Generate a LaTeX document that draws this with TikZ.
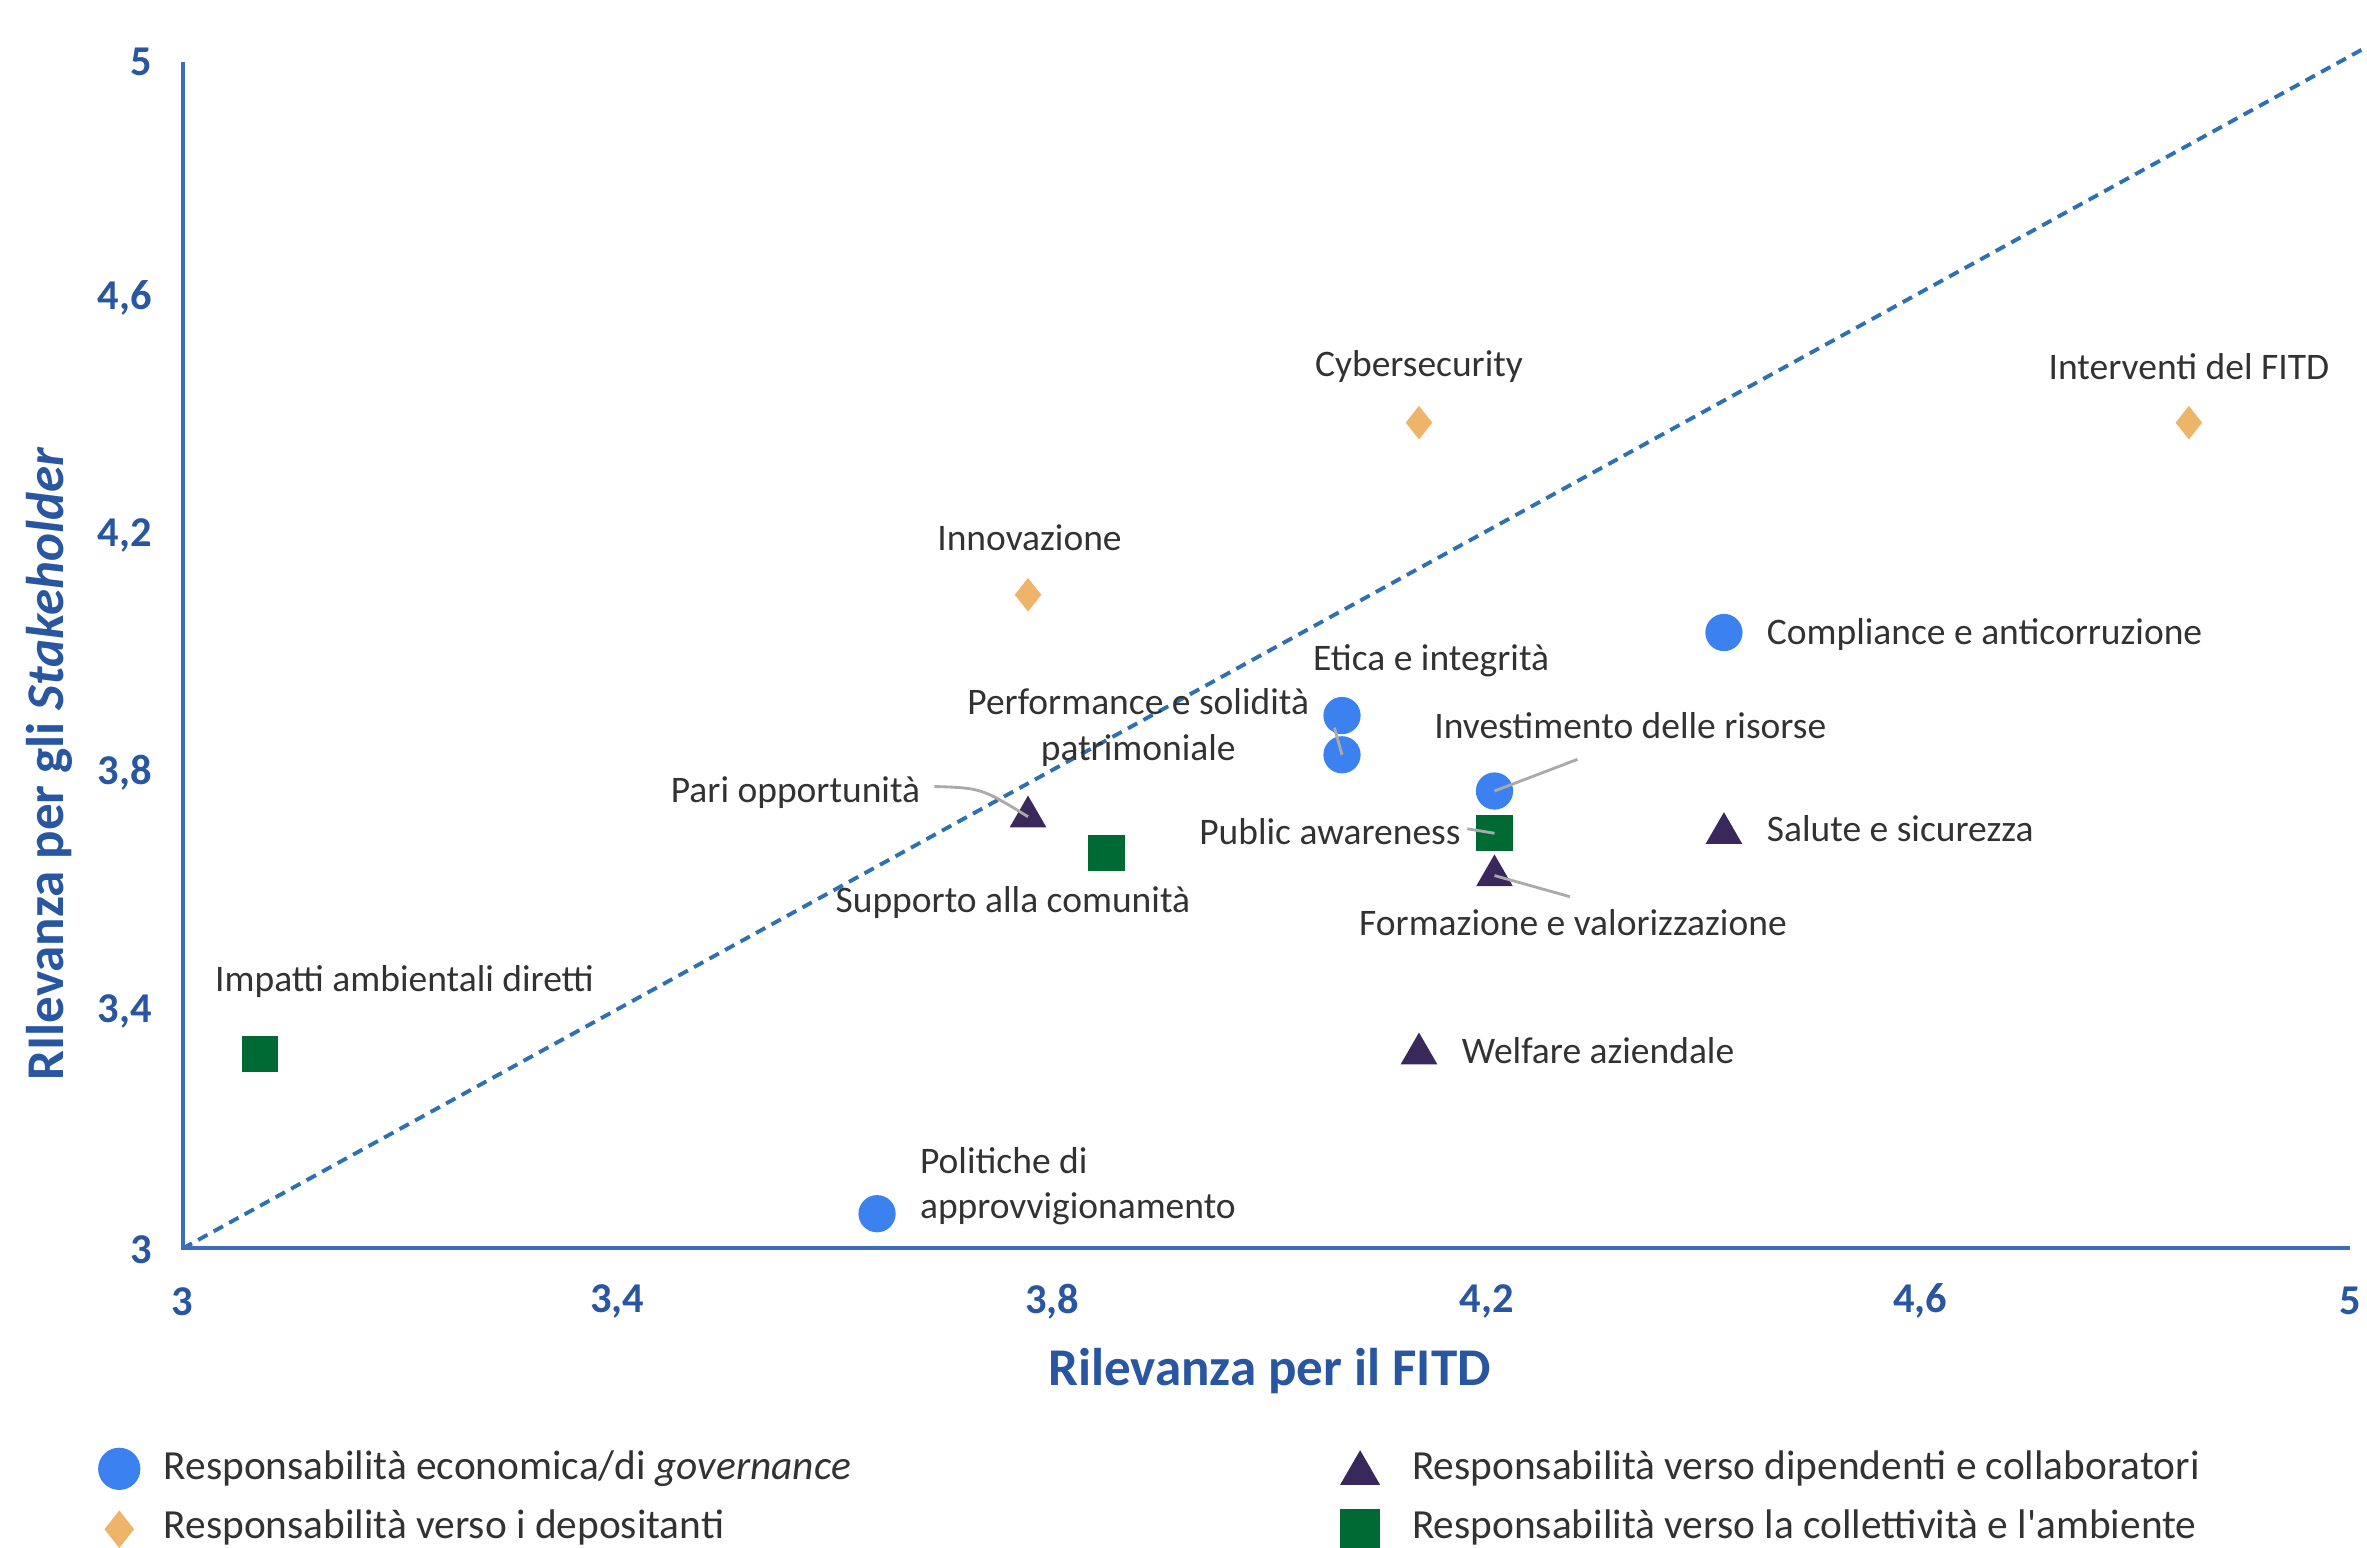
\documentclass[tikz,border=0pt]{standalone}
\usepackage{fontspec}
\setmainfont{Carlito}
\newfontfamily\nomapf{Carlito}[Ligatures=TeXOff]
\usetikzlibrary{shapes.geometric}
\definecolor{axblue}{RGB}{40,86,160}
\definecolor{axline}{RGB}{62,110,185}
\definecolor{dashblue}{RGB}{46,112,178}
\definecolor{cblue}{RGB}{59,130,240}
\definecolor{corange}{RGB}{238,180,105}
\definecolor{cpurple}{RGB}{56,40,92}
\definecolor{cgreen}{RGB}{0,106,52}
\definecolor{lbl}{RGB}{50,50,50}
\definecolor{lead}{RGB}{170,170,170}
\begin{document}
\begin{tikzpicture}[x=0.015cm,y=-0.015cm,
  lab/.style={font=\fontsize{10.6}{12.8}\selectfont, text=lbl, inner sep=0pt},
  leg/.style={font=\fontsize{11.7}{14}\selectfont, text=lbl, inner sep=0pt, anchor=west},
  tick/.style={font=\bfseries\fontsize{12}{14}\selectfont, text=axblue, inner sep=0pt},
  ttl/.style={font=\bfseries\fontsize{15}{18}\selectfont, text=axblue, inner sep=0pt},
  mcirc/.style={circle, fill=cblue, inner sep=0pt, minimum size=0.37cm},
  mdiam/.style={diamond, fill=corange, inner sep=0pt, minimum width=0.27cm, minimum height=0.34cm},
  mtri/.style={regular polygon, regular polygon sides=3, fill=cpurple, inner sep=0pt, minimum size=0.42cm},
  msq/.style={rectangle, fill=cgreen, inner sep=0pt, minimum size=0.36cm},
  leader/.style={draw=lead, line width=0.8pt}
]
\useasboundingbox (0,0) rectangle (1568,1025);
\clip (0,0) rectangle (1568,1025);
% axes
\coordinate (O) at (121,827);
\coordinate (Ytop) at (121,41);
\coordinate (Xend) at (1557,827);
\coordinate (Dend) at (1568,31);
\draw[dashblue, line width=1.1pt, dash pattern=on 3pt off 2pt] (O) -- (Dend);
\draw[axline, line width=1.1pt] (Ytop) -- (O) -- (Xend);
% y ticks
\node[tick, anchor=east] (y5) at (101,41) {5};
\node[tick, anchor=east] (y46) at (101,197) {4,6};
\node[tick, anchor=east] (y42) at (101,355) {4,2};
\node[tick, anchor=east] (y38) at (101,512) {3,8};
\node[tick, anchor=east] (y34) at (101,670) {3,4};
\node[tick, anchor=east] (y3) at (101,828) {3};
% x ticks
\node[tick] (x3) at (121,862) {3};
\node[tick] (x34) at (409,862) {3,4};
\node[tick] (x38) at (697,862) {3,8};
\node[tick] (x42) at (985,862) {4,2};
\node[tick] (x46) at (1272,862) {4,6};
\node[tick] (x5) at (1557,862) {5};
% titles
\node[ttl] (xt) at (841,908) {Rilevanza per il FITD};
\node[ttl, rotate=90] (yt) at (33,506) {RIlevanza per gli \textit{Stakeholder}};
% markers
\node[mdiam] (m1) at (1450,280) {};
\node[mdiam] (m2) at (940,280) {};
\node[mdiam] (m3) at (681,394) {};
\node[mcirc] (m4) at (1142,419) {};
\node[mcirc] (m5) at (889,474) {};
\node[mcirc] (m6) at (889,500) {};
\node[mcirc] (m7) at (990,524) {};
\node[msq] (m8) at (990,552) {};
\node[mtri] (m9) at (990,580) {};
\node[mtri] (m10) at (1142,552) {};
\node[mtri] (m11) at (681,541) {};
\node[msq] (m12) at (733,565) {};
\node[msq] (m13) at (172,698) {};
\node[mtri] (m14) at (940,698) {};
\node[mcirc] (m15) at (581,804) {};
% labels
\node[lab] (l1) at (1450,243) {Interventi del FITD};
\node[lab] (l2) at (940,243) {Cybersecurity};
\node[lab] (l3) at (682,356) {Innovazione};
\node[lab, anchor=west] (l4) at (1170,420) {Compliance e anticorruzione};
\node[lab] (l5) at (948,438) {Etica e integrità};
\node[lab, align=center] (l6) at (754,482) {Performance e solidità\\patrimoniale};
\node[lab] (l7) at (1080,481) {Investimento delle risorse};
\node[lab] (l8) at (527,525) {Pari opportunità};
\node[lab] (l9) at (881,551) {Public awareness};
\node[lab, anchor=west] (l10) at (1170,549) {Salute e sicurezza};
\node[lab] (l11) at (671,598) {Supporto alla comunità};
\node[lab] (l12) at (1042,611) {Formazione e valorizzazione};
\node[lab] (l13) at (268,650) {Impatti ambientali diretti};
\node[lab, anchor=west] (l14) at (968,696) {Welfare aziendale};
\node[lab, align=left, anchor=west] (l15) at (609,786) {Politiche di\\approvvigionamento};
% leaders
\coordinate (c8) at (619,521);
\draw[leader] (c8) .. controls (650,522) .. (m11.center);
\coordinate (c6) at (884,482);
\draw[leader] (c6) -- (m6.center);
\coordinate (c7) at (1045,503);
\draw[leader] (m7.center) -- (c7);
\coordinate (c9) at (972,549);
\draw[leader] (c9) -- (m8.center);
\coordinate (c12) at (1040,594);
\draw[leader] (m9.center) -- (c12);
% legend
\node[mcirc, minimum size=0.42cm] (g1) at (79,973) {};
\node[leg] (t1) at (108,973) {Responsabilità economica/di \textit{governance}};
\node[mdiam, minimum width=0.3cm, minimum height=0.38cm] (g2) at (79,1013) {};
\node[leg] (t2) at (108,1012) {Responsabilità verso i depositanti};
\node[mtri, minimum size=0.46cm] (g3) at (901,976) {};
\node[leg] (t3) at (935,973) {Responsabilità verso dipendenti e collaboratori};
\node[msq, minimum size=0.4cm] (g4) at (901,1013) {};
\node[leg] (t4) at (935,1012) {Responsabilità verso la collettività e l{\nomapf\char"0027}ambiente};
\end{tikzpicture}
\end{document}
